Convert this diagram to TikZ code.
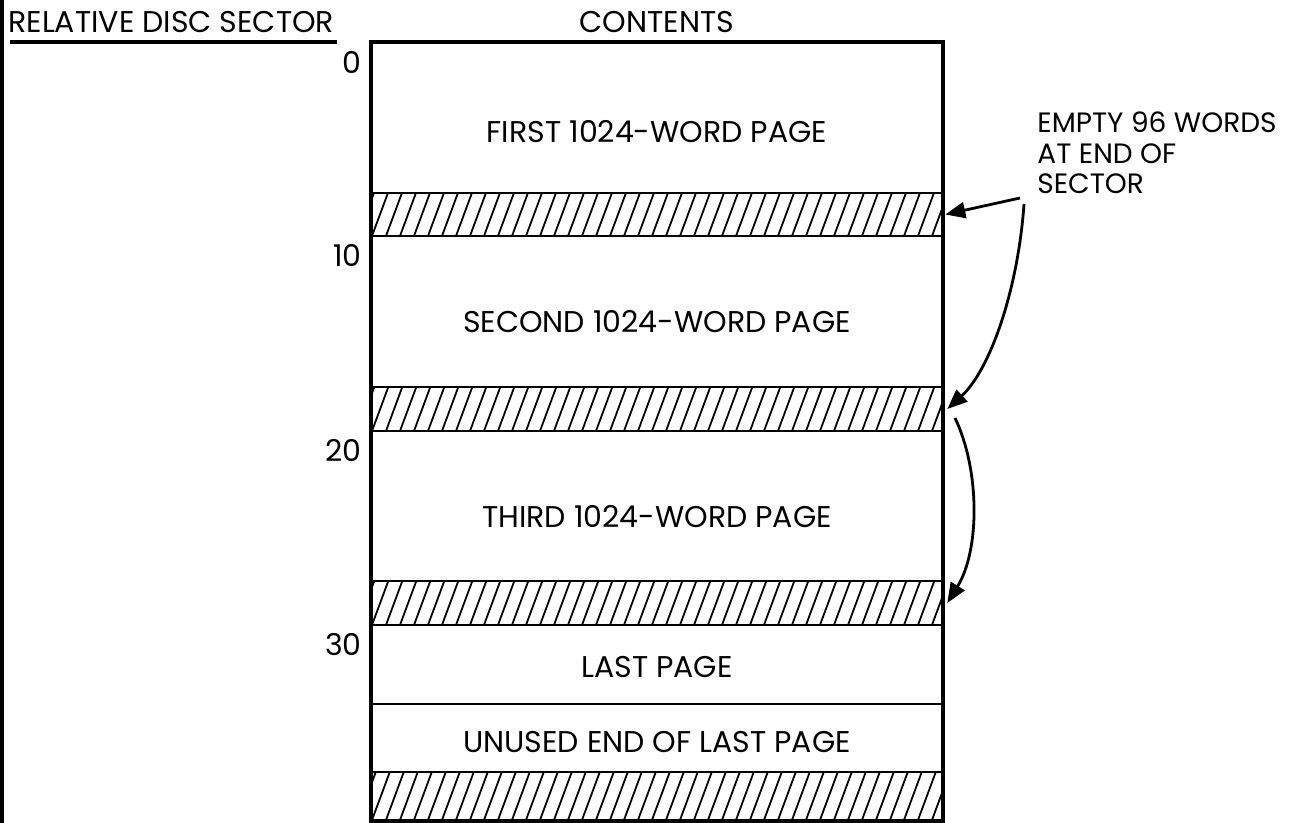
\documentclass[tikz,border=0pt]{standalone}
\usepackage{fontspec}
\setmainfont{Poppins}
\usepackage{tikz}
\usetikzlibrary{arrows.meta,positioning}

\begin{document}
\begin{tikzpicture}[x=0.5pt,y=-0.5pt, font=\fontsize{15}{15.25}\selectfont,
  page/.style={draw, line width=1.3pt, minimum width=285pt, inner sep=0pt},
  band/.style={page, path picture={
      \foreach \k in {-3,...,42}{
        \draw[line width=0.9pt] ([xshift=\k*7pt]path picture bounding box.south west) -- ++(10pt,27pt);
      }}},
  pointer/.style={-{Triangle[length=10pt,width=8pt]}, line width=1.4pt}]
\useasboundingbox (0,0) rectangle (1295,823);
\draw[line width=1.6pt] (2,0) -- (2,823);
% headings
\node[anchor=west, inner sep=0pt] (head) at (8,22) {RELATIVE DISC SECTOR};
\draw[line width=1.6pt] (10,42) -- (337,42);
\node[inner sep=0pt] (contents) at (657,22) {CONTENTS};
% pages
\foreach \name/\top/\bottom/\ty/\text in {
    p1/43/193/132/FIRST 1024-WORD PAGE,
    p2/236/387/322/SECOND 1024-WORD PAGE,
    p3/431/581/517/THIRD 1024-WORD PAGE,
    p4/625/704/667/LAST PAGE,
    p5/704/772/742/UNUSED END OF LAST PAGE}{
  \node[page, minimum height=\bottom*0.5pt-\top*0.5pt] (\name) at (657,{(\top+\bottom)/2}) {};
  \node (\name t) at (657,\ty) {\text};
}
% empty words at end of each sector
\foreach \name/\top/\bottom in {b1/193/236,b2/387/431,b3/581/625,b4/772/820}{
  \node[band, minimum height=\bottom*0.5pt-\top*0.5pt] (\name) at (657,{(\top+\bottom)/2}) {};
}
\draw[line width=2pt] (p1.north west) rectangle (b4.south east);
% sector numbers
\foreach \lab/\y in {0/62,10/255,20/450,30/645}{
  \node[anchor=east, inner sep=0pt] (s\lab) at (362,\y) {\lab};
}
% note
\node[anchor=west, align=left, inner sep=0pt, font=\fontsize{14}{15.25}\selectfont] (note) at (1037,153) {EMPTY 96 WORDS\\AT END OF\\SECTOR};
\coordinate (tailA) at (1020,198);
\coordinate (tailB) at (1024,204);
\coordinate (tailC) at (955,418);
\draw[pointer] (tailA) -- ([xshift=1pt]b1.east);
\draw[pointer] (tailB) .. controls (1018,290) and (990,370) .. ([xshift=2pt]b2.east);
\draw[pointer] (tailC) .. controls (980,470) and (980,550) .. ([xshift=2pt]b3.east);
\end{tikzpicture}
\end{document}
